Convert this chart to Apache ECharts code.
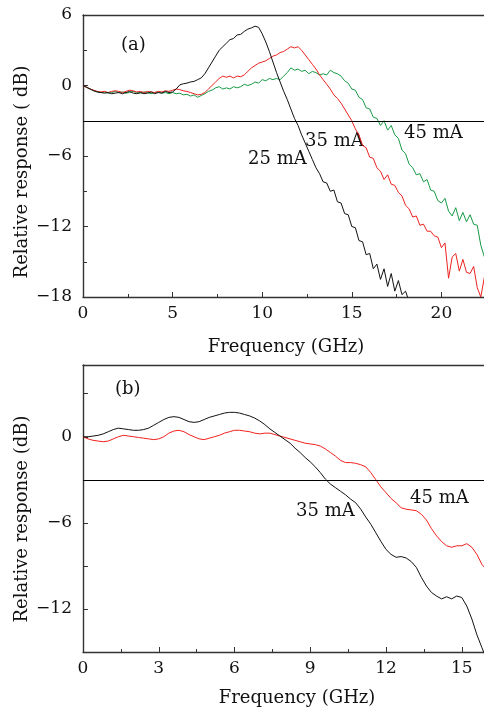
<!DOCTYPE html>
<html><head><meta charset="utf-8">
<script src="https://cdn.jsdelivr.net/npm/echarts@6/dist/echarts.min.js"></script>
<style>html,body{margin:0;padding:0;background:#fff}#c{width:484px;height:711px}</style>
</head><body><div id="c"></div>
<script>
// ---------- Data ----------
// Panel (a): frequency step (GHz) between consecutive samples, starting at 0
const stepA = 0.2;
const resp25mA_a = [
  0, -0.15, -0.3, -0.45, -0.55, -0.6, -0.65, -0.6, -0.7, -0.65, -0.6, -0.7, -0.6, -0.5, -0.65, -0.7, -0.6, -0.7, -0.65, -0.55, -0.7, -0.6, -0.65, -0.5, -0.6, -0.55,
  -0.3, 0.05, 0.15, 0.2, 0.3,
  0.35, 0.5, 0.65, 1.0, 1.5,
  2.0, 2.5, 3.0, 3.3, 3.6,
  3.9, 4.0, 4.3, 4.35, 4.6,
  4.8, 4.9, 5.05, 4.95, 4.4,
  3.7, 2.9, 2.0, 1.1, 0.3,
  -0.5, -1.2, -2.0, -2.8, -3.4,
  -4.2, -4.9, -5.6,
  -6.3, -7.0, -7.5, -8.2, -8.3,
  -9.0, -8.9, -9.9, -10.0, -10.9,
  -11.0, -12.0, -12.1, -13.2, -13.3,
  -14.4, -14.3, -15.6, -15.2, -16.5,
  -15.6, -17.1, -16.0, -17.5, -16.6,
  -17.8, -17.5, -18.4
];
const resp35mA_a = [
  0, -0.15, -0.3, -0.4, -0.5, -0.55, -0.5, -0.6, -0.5, -0.45, -0.5, -0.6, -0.5, -0.4, -0.45, -0.55, -0.5, -0.6, -0.5, -0.55, -0.6, -0.5, -0.55, -0.45, -0.5, -0.4,
  -0.3, -0.35, -0.45, -0.5, -0.6,
  -0.7, -0.8, -0.75, -0.6, -0.3,
  0.0, 0.3, 0.6, 0.8, 0.7,
  0.8, 0.65, 0.8, 0.75, 0.9,
  1.2, 1.5, 1.7, 1.9, 2.0,
  2.1, 2.3, 2.5, 2.6, 2.8,
  2.9, 3.1, 3.3, 3.2, 3.3,
  3.0, 2.6, 2.2, 1.8, 1.4,
  0.9, 0.5, 0.1, -0.3, -0.8,
  -1.1, -1.5, -2.0, -2.5,
  -3.0, -3.7, -4.2, -5.1, -5.3,
  -6.1, -6.2, -7.0, -7.3, -8.0,
  -7.6, -8.4, -8.5, -9.1, -9.4,
  -10.2, -10.5, -11.2, -11.1, -11.9,
  -11.8, -12.4, -12.4, -12.8, -12.9,
  -13.8, -13.4, -16.4, -14.6, -14.3,
  -15.8, -14.8, -15.9, -16.0, -15.4,
  -17.2, -18.0, -16.3
];
const resp45mA_a = [
  0, -0.15, -0.3, -0.45, -0.55, -0.6, -0.55, -0.65, -0.6, -0.5, -0.6, -0.55, -0.65, -0.6, -0.5, -0.6, -0.65, -0.55, -0.6, -0.7, -0.6, -0.55, -0.65, -0.6, -0.7, -0.6,
  -0.7, -0.65, -0.8, -0.75, -0.9,
  -0.8, -1.0, -0.85, -0.7, -0.5,
  -0.4, -0.2, -0.1, -0.3, -0.2,
  -0.3, -0.1, -0.2, -0.1, 0.1,
  0.0, 0.1, 0.3, 0.2, 0.5,
  0.4, 0.6, 0.5, 0.6, 0.5,
  0.8, 1.1, 1.5, 1.3, 1.4,
  1.2, 1.3, 1.0, 1.2, 1.1,
  0.9, 1.0, 0.9, 1.3, 1.1,
  1.0, 0.8, 0.4, 0.2, -0.3, -0.4,
  -1.0, -1.2, -1.9, -2.0, -2.7,
  -2.8, -3.4, -3.0, -3.8, -3.4,
  -4.2, -4.5, -5.5, -5.8, -6.7,
  -7.0, -7.6, -7.5, -8.2, -8.0,
  -8.9, -9.0, -9.8, -10.0, -9.6,
  -10.7, -11.1, -10.4, -11.5, -10.8,
  -11.6, -11.0, -11.8, -11.9, -13.6,
  -14.6
];
// Panel (b)
const stepB = 0.2;
const resp35mA_b = [
  0.0, 0.0, 0.05, 0.1, 0.2,
  0.35, 0.5, 0.6, 0.55, 0.5,
  0.45, 0.45, 0.5, 0.6, 0.8,
  1.0, 1.2, 1.35, 1.4, 1.35,
  1.2, 1.05, 1.0, 1.05, 1.2,
  1.35, 1.45, 1.55, 1.65, 1.7,
  1.7, 1.65, 1.55, 1.45, 1.3,
  1.1, 0.85, 0.55, 0.3, 0.05,
  -0.2, -0.45, -0.8, -1.1, -1.45,
  -1.75, -2.1, -2.5, -2.95, -3.3,
  -3.55, -3.8, -4.05, -4.35, -4.6,
  -5.05, -5.6, -6.1, -6.7, -7.3,
  -7.85, -8.2, -8.4, -8.35, -8.45,
  -8.7, -9.1, -9.8, -10.4, -10.85,
  -11.1, -11.3, -11.15, -11.3, -11.1,
  -11.2, -11.8, -12.7, -13.8, -14.7,
  -15.6
];
const resp45mA_b = [
  0, -0.15, -0.25, -0.3, -0.35,
  -0.3, -0.15, 0.0, 0.1, 0.05,
  0.0, -0.05, -0.1, -0.15, -0.2,
  -0.15, 0.0, 0.25, 0.4, 0.45,
  0.35, 0.15, 0.0, -0.15, -0.2,
  -0.1, 0.0, 0.1, 0.25, 0.35,
  0.45, 0.45, 0.4, 0.35, 0.25,
  0.2, 0.25, 0.25, 0.15, 0.05,
  -0.05, -0.15, -0.25, -0.35, -0.45,
  -0.5, -0.55, -0.65, -0.85, -1.1,
  -1.35, -1.65, -1.8, -1.8, -1.85,
  -1.95, -2.1, -2.5, -3.0, -3.5,
  -3.9, -4.3, -4.6, -4.95, -5.05,
  -5.1, -5.15, -5.4, -5.8, -6.4,
  -6.9, -7.3, -7.6, -7.7, -7.6,
  -7.6, -7.45, -7.7, -8.2, -8.9,
  -9.3
];
const refLevel = -3;
const labelsA = ['25 mA', '35 mA', '45 mA'];
const labelsB = ['35 mA', '45 mA'];

// ---------- Build ----------
function pairs(arr, step) { return arr.map((v, i) => [+(i * step).toFixed(3), v]); }
const FF = 'DejaVu Serif';
const TXT = '#111';
const AX = '#333';
const fmtNum = v => (v < 0 ? '\u2212' + Math.abs(v) : String(v));

const chart = echarts.init(document.getElementById('c'), null, { renderer: 'canvas' });

function xAx(grid, max, interval) {
  return {
    gridIndex: grid, type: 'value', min: 0, max: max, interval: interval, position: 'bottom',
    axisLine: { show: true, onZero: false, lineStyle: { color: AX, width: 1.4 } },
    axisTick: { show: true, inside: true, length: 5, lineStyle: { color: AX, width: 1 } },
    minorTick: { show: true, splitNumber: 2, length: 3, lineStyle: { color: AX, width: 1 } },
    splitLine: { show: false }, minorSplitLine: { show: false },
    axisLabel: { fontFamily: FF, fontSize: 17, color: TXT, margin: 8, formatter: v => fmtNum(v) }
  };
}
function topAx(grid, max) {
  return {
    gridIndex: grid, type: 'value', min: 0, max: max, position: 'top',
    axisLine: { show: true, onZero: false, lineStyle: { color: AX, width: 1.4 } },
    axisTick: { show: false }, axisLabel: { show: false }, splitLine: { show: false }
  };
}
function yAx(grid, min, max, interval, minor) {
  return {
    gridIndex: grid, type: 'value', min: min, max: max, interval: interval,
    axisLine: { show: true, onZero: false, lineStyle: { color: AX, width: 1.4 } },
    axisTick: { show: true, inside: true, length: 5, lineStyle: { color: AX, width: 1 } },
    minorTick: { show: minor, splitNumber: 2, length: 4, lineStyle: { color: AX, width: 1 } },
    splitLine: { show: false }, minorSplitLine: { show: false },
    axisLabel: { fontFamily: FF, fontSize: 17, color: TXT, margin: 11,
      formatter: v => (Math.abs(v % 6) < 1e-9 ? fmtNum(v) : '') }
  };
}
const ml = { silent: true, symbol: 'none', label: { show: false },
  lineStyle: { color: '#000', width: 1.2, type: 'solid' }, data: [{ yAxis: refLevel }] };

function line(name, data, xi, yi, color, extra) {
  return Object.assign({ name: name, type: 'line', xAxisIndex: xi, yAxisIndex: yi, data: data,
    showSymbol: false, symbol: 'none', smooth: false, clip: true,
    lineStyle: { color: color, width: 1 }, emphasis: { disabled: true } }, extra || {});
}

const txt = (x, y, s, size, align, rot) => ({
  type: 'text', x: x, y: y, rotation: rot || 0, silent: true,
  style: { text: s, font: size + 'px "' + FF + '"', fill: TXT, textAlign: align || 'left', textVerticalAlign: 'middle' }
});

chart.setOption({
  animation: false,
  backgroundColor: '#fff',
  grid: [
    { left: 83, top: 15, width: 448, height: 282, outerBoundsMode: 'none', containLabel: false },
    { left: 83, top: 365, width: 454.5, height: 287, outerBoundsMode: 'none', containLabel: false }
  ],
  xAxis: [xAx(0, 25, 5), topAx(0, 25), xAx(1, 18, 3), topAx(1, 18)],
  yAxis: [yAx(0, -18, 6, 6, true), yAx(1, -15, 5, 3, false)],
  series: [
    line(labelsA[2], pairs(resp45mA_a, stepA), 0, 0, '#169a45', { markLine: ml }),
    line(labelsA[1], pairs(resp35mA_a, stepA), 0, 0, '#ec2320'),
    line(labelsA[0], pairs(resp25mA_a, stepA), 0, 0, '#111'),
    line(labelsB[1], pairs(resp45mA_b, stepB), 2, 1, '#f0201c', { markLine: ml }),
    line(labelsB[0], pairs(resp35mA_b, stepB), 2, 1, '#111')
  ],
  graphic: [
    txt(121, 45, '(a)', 18),
    txt(248, 159, labelsA[0], 18),
    txt(305, 141, labelsA[1], 18),
    txt(404, 133, labelsA[2], 18),
    txt(22, 172, 'Relative response ( dB)', 18, 'center', Math.PI / 2),
    txt(286, 347, 'Frequency (GHz)', 18, 'center'),
    txt(115, 389, '(b)', 18),
    txt(296, 511, labelsB[0], 18),
    txt(410, 498, labelsB[1], 18),
    txt(22, 519, 'Relative response (dB)', 18, 'center', Math.PI / 2),
    txt(297, 698, 'Frequency (GHz)', 18, 'center')
  ]
});
</script></body></html>
